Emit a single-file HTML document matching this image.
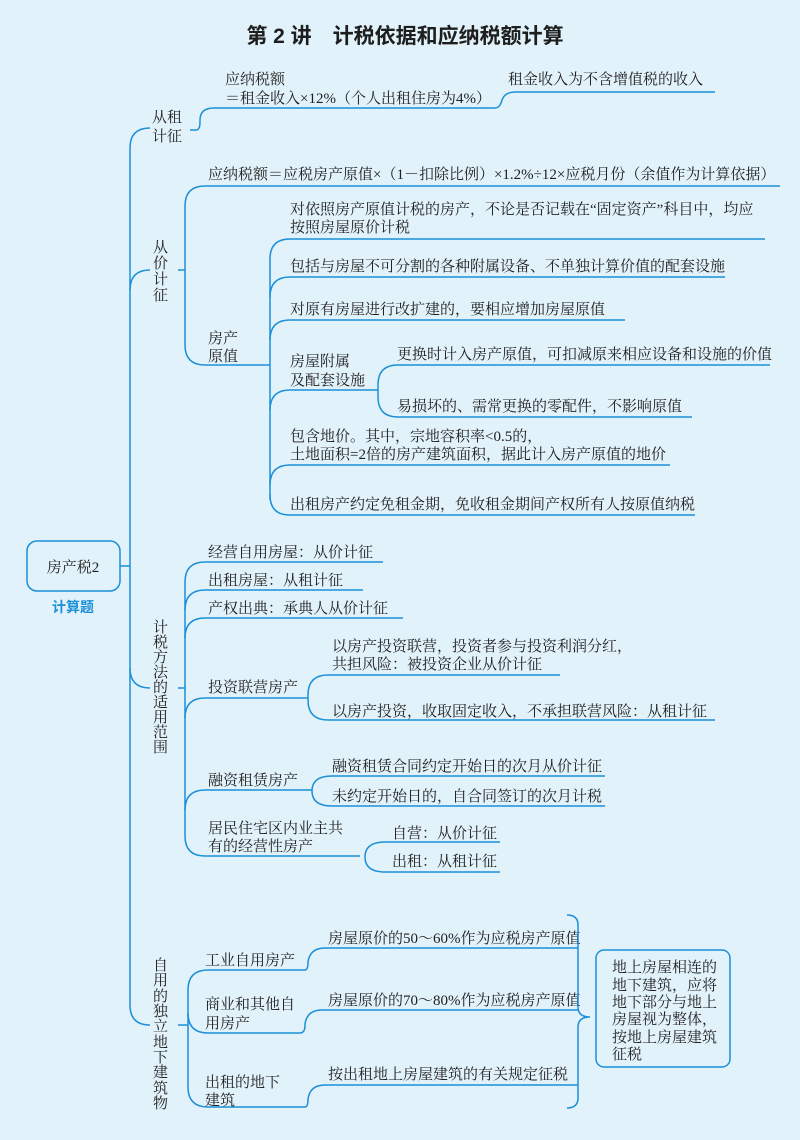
<!DOCTYPE html>
<html><head><meta charset="utf-8"><style>
body{margin:0;background:#e1f2fb;}
svg{display:block;}
text{font-family:"Liberation Serif","Noto Serif CJK SC","Noto Sans CJK SC",serif;font-size:15px;fill:#1e1e1e;}
.l{fill:none;stroke:#1b8fd8;stroke-width:1.5;}
</style></head><body>
<svg width="800" height="1140" viewBox="0 0 800 1140">
<rect width="800" height="1140" fill="#e1f2fb"/>
<text x="405" y="43" text-anchor="middle" style="font-family:'Liberation Sans','Noto Sans CJK SC',sans-serif;font-size:21px;font-weight:bold;">第 2 讲　计税依据和应纳税额计算</text>

<rect x="27" y="541" width="93" height="50" rx="10" class="l"/>
<text x="73" y="572" text-anchor="middle">房产税2</text>
<text x="73" y="612" text-anchor="middle" style="font-family:'Liberation Sans','Noto Sans CJK SC',sans-serif;font-weight:bold;fill:#1b8fd8;font-size:14px">计算题</text>
<path class="l" d="M120,566 L130,566"/>
<path class="l" d="M150,128 Q130,128 130,148 L130,1005 Q130,1025 150,1025"/>
<path class="l" d="M130,290 Q130,270 150,270"/>
<path class="l" d="M130,668 Q130,688 150,688"/>

<text x="152" y="122">从租</text><text x="152" y="141">计征</text>
<path class="l" d="M190,130 L196,130 Q200,130 200,122 L200,120 Q200,108 214,108 L495,108 Q500,108 502,100 Q505,92 515,92 L715,92"/>
<text x="225" y="84">应纳税额</text>
<text x="225" y="103">＝租金收入×12%（个人出租住房为4%）</text>
<text x="508" y="84">租金收入为不含增值税的收入</text>

<text x="153" y="252">从</text><text x="153" y="268">价</text><text x="153" y="284">计</text><text x="153" y="300">征</text>
<path class="l" d="M178,270 L185,270"/>
<path class="l" d="M205,186 Q185,186 185,206 L185,345 Q185,365 205,365 L270,365"/>
<path class="l" d="M205,186 L780,186"/>
<text x="208" y="179">应纳税额＝应税房产原值×（1－扣除比例）×1.2%÷12×应税月份（余值作为计算依据）</text>
<text x="208" y="343">房产</text><text x="208" y="361">原值</text>
<path class="l" d="M270,500 L270,259 Q270,239 290,239 L765,239"/>
<path class="l" d="M270,297 Q270,277 290,277 L725,277"/>
<path class="l" d="M270,340 Q270,320 290,320 L625,320"/>
<path class="l" d="M270,410 Q270,390 290,390 L378,390"/>
<path class="l" d="M270,485 Q270,465 290,465 L670,465"/>
<path class="l" d="M270,495 Q270,515 290,515 L695,515"/>
<text x="290" y="214">对依照房产原值计税的房产，不论是否记载在“固定资产”科目中，均应</text>
<text x="290" y="232">按照房屋原价计税</text>
<text x="290" y="271">包括与房屋不可分割的各种附属设备、不单独计算价值的配套设施</text>
<text x="290" y="314">对原有房屋进行改扩建的，要相应增加房屋原值</text>
<text x="290" y="366">房屋附属</text><text x="290" y="385">及配套设施</text>
<path class="l" d="M398,365 Q378,365 378,385 L378,397 Q378,417 398,417 L692,417"/>
<path class="l" d="M398,365 L770,365"/>
<text x="397" y="359">更换时计入房产原值，可扣减原来相应设备和设施的价值</text>
<text x="397" y="411">易损坏的、需常更换的零配件，不影响原值</text>
<text x="290" y="441">包含地价。其中，宗地容积率&lt;0.5的，</text>
<text x="290" y="459">土地面积=2倍的房产建筑面积，据此计入房产原值的地价</text>
<text x="290" y="509">出租房产约定免租金期，免收租金期间产权所有人按原值纳税</text>

<g>
<text x="153" y="632">计</text><text x="153" y="647">税</text><text x="153" y="662">方</text><text x="153" y="677">法</text><text x="153" y="692">的</text><text x="153" y="707">适</text><text x="153" y="722">用</text><text x="153" y="737">范</text><text x="153" y="752">围</text>
</g>
<path class="l" d="M178,688 L185,688"/>
<path class="l" d="M205,562 Q185,562 185,582 L185,836 Q185,856 205,856 L360,856"/>
<path class="l" d="M205,562 L383,562"/>
<path class="l" d="M185,610 Q185,590 205,590 L363,590"/>
<path class="l" d="M185,638 Q185,618 205,618 L403,618"/>
<path class="l" d="M185,718 Q185,698 205,698 L308,698"/>
<path class="l" d="M185,810 Q185,790 205,790 L312,790"/>
<text x="208" y="557">经营自用房屋：从价计征</text>
<text x="208" y="585">出租房屋：从租计征</text>
<text x="208" y="613">产权出典：承典人从价计征</text>
<text x="208" y="692">投资联营房产</text>
<path class="l" d="M328,675 Q308,675 308,695 L308,700 Q308,720 328,720 L715,720"/>
<path class="l" d="M328,675 L560,675"/>
<text x="332" y="651">以房产投资联营，投资者参与投资利润分红，</text>
<text x="332" y="669">共担风险：被投资企业从价计征</text>
<text x="332" y="716">以房产投资，收取固定收入，不承担联营风险：从租计征</text>
<text x="208" y="785">融资租赁房产</text>
<path class="l" d="M332,776 Q312,776 312,791 Q312,806 332,806 L605,806"/>
<path class="l" d="M332,776 L605,776"/>
<text x="332" y="771">融资租赁合同约定开始日的次月从价计征</text>
<text x="332" y="801">未约定开始日的，自合同签订的次月计税</text>
<text x="208" y="833">居民住宅区内业主共</text>
<text x="208" y="851">有的经营性房产</text>
<path class="l" d="M385,842 Q365,842 365,857 Q365,872 385,872 L500,872"/>
<path class="l" d="M385,842 L500,842"/>
<text x="392" y="838">自营：从价计征</text>
<text x="392" y="866">出租：从租计征</text>

<g>
<text x="153" y="970">自</text><text x="153" y="985">用</text><text x="153" y="1001">的</text><text x="153" y="1016">独</text><text x="153" y="1031">立</text><text x="153" y="1047">地</text><text x="153" y="1062">下</text><text x="153" y="1077">建</text><text x="153" y="1093">筑</text><text x="153" y="1108">物</text>
</g>
<path class="l" d="M178,1025 L188,1025"/>
<path class="l" d="M208,970 Q188,970 188,990 L188,1087 Q188,1107 208,1107 L305,1107"/>
<path class="l" d="M208,970 L305,970"/>
<path class="l" d="M188,1013 Q188,1033 208,1033 L300,1033"/>
<text x="205" y="965">工业自用房产</text>
<text x="205" y="1009">商业和其他自</text><text x="205" y="1028">用房产</text>
<text x="205" y="1087">出租的地下</text><text x="205" y="1105">建筑</text>
<path class="l" d="M305,970 Q308,970 308,962 Q310,948 325,948 L578,948"/>
<path class="l" d="M300,1033 Q305,1033 305,1025 L305,1024 Q307,1010 322,1010 L578,1010"/>
<path class="l" d="M305,1107 Q308,1107 308,1099 Q310,1085 325,1085 L578,1085"/>
<text x="328" y="943">房屋原价的50～60%作为应税房产原值</text>
<text x="328" y="1005">房屋原价的70～80%作为应税房产原值</text>
<text x="328" y="1079">按出租地上房屋建筑的有关规定征税</text>
<path class="l" d="M567,915 Q578,915 578,925 L578,1007 Q578,1017 590,1017 Q578,1017 578,1027 L578,1098 Q578,1108 567,1108"/>
<rect x="596" y="950" width="134" height="117" rx="8" class="l"/>
<text x="612" y="972">地上房屋相连的</text>
<text x="612" y="990">地下建筑，应将</text>
<text x="612" y="1007">地下部分与地上</text>
<text x="612" y="1024">房屋视为整体，</text>
<text x="612" y="1042">按地上房屋建筑</text>
<text x="612" y="1059">征税</text>
</svg>
</body></html>
